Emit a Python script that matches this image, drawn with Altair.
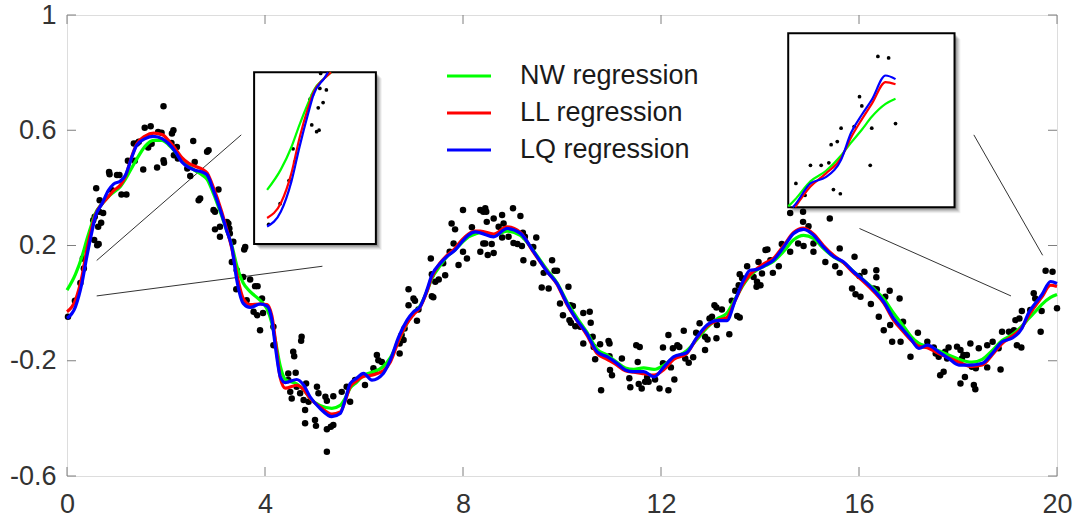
import altair as alt
import pandas as pd

# ---------------- data ----------------
X_TICKS = [0, 4, 8, 12, 16, 20]
Y_TICKS = [-0.6, -0.2, 0.2, 0.6, 1.0]
SERIES = ["NW regression", "LL regression", "LQ regression"]
COLORS = ["#00ff00", "#ff0000", "#0000ff"]

curve_x = [0.0, 0.17, 0.30, 0.40, 0.51, 0.57, 0.71, 0.84, 0.94, 1.08, 1.18, 1.31, 1.41, 1.58, 1.75, 1.92,
           2.05, 2.19, 2.32, 2.46, 2.59, 2.73, 2.83, 2.96, 3.12, 3.22, 3.33, 3.43, 3.56, 3.70, 3.90,
           4.04, 4.14, 4.21, 4.31, 4.41, 4.64, 4.78, 4.91, 5.11, 5.35, 5.52, 5.62, 5.72, 5.85, 5.99,
           6.16, 6.39, 6.53, 6.70, 6.87, 7.00, 7.13, 7.27, 7.37, 7.54, 7.67, 7.84, 7.98,
           8.11, 8.25, 8.35, 8.62, 8.89, 9.16, 9.43, 9.70, 9.90,
           10.10, 10.30, 10.50, 10.71, 10.91, 11.11, 11.28, 11.45, 11.65, 11.86,
           12.06, 12.26, 12.52, 12.73, 12.93, 13.13, 13.33, 13.50, 13.67, 13.80, 13.94,
           14.11, 14.27, 14.48, 14.68, 14.88, 15.08, 15.28, 15.49, 15.69, 15.89,
           16.09, 16.30, 16.50, 16.70, 16.90, 17.05, 17.21, 17.38, 17.61, 17.81,
           18.02, 18.28, 18.49, 18.69, 18.89, 19.09, 19.29, 19.42, 19.56, 19.69, 19.87, 20.0]

lq_y = [-0.053, -0.013, 0.068, 0.161, 0.253, 0.299, 0.346, 0.392, 0.413, 0.424, 0.444, 0.507, 0.548, 0.571, 0.579, 0.571,
        0.554, 0.525, 0.490, 0.471, 0.461, 0.455, 0.445, 0.390, 0.311, 0.255, 0.195, 0.080, -0.001, -0.015, -0.003,
        -0.010, -0.059, -0.152, -0.256, -0.276, -0.265, -0.284, -0.325, -0.365, -0.394, -0.383, -0.336, -0.279, -0.261, -0.244,
        -0.267, -0.244, -0.198, -0.117, -0.059, -0.030, -0.013, 0.045, 0.097, 0.138, 0.161, 0.184, 0.213,
        0.236, 0.247, 0.244, 0.230, 0.259, 0.242, 0.178, 0.109, 0.068,
        -0.001, -0.059, -0.105, -0.169, -0.186, -0.209, -0.232, -0.238, -0.238, -0.256,
        -0.221, -0.186, -0.172, -0.117, -0.076, -0.061, -0.061, 0.010, 0.080, 0.114, 0.117,
        0.132, 0.149, 0.195, 0.242, 0.256, 0.236, 0.195, 0.161, 0.143, 0.109,
        0.080, 0.045, 0.004, -0.053, -0.094, -0.125, -0.157, -0.146, -0.169, -0.192,
        -0.215, -0.215, -0.209, -0.175, -0.134, -0.122, -0.088, -0.036, -0.001, 0.028, 0.075, 0.068]

ll_y = [-0.030, 0.010, 0.090, 0.185, 0.268, 0.305, 0.345, 0.370, 0.390, 0.410, 0.440, 0.510, 0.552, 0.580, 0.590, 0.585,
        0.565, 0.535, 0.505, 0.485, 0.475, 0.465, 0.452, 0.400, 0.320, 0.260, 0.190, 0.100, 0.016, -0.005, -0.003,
        -0.005, -0.045, -0.130, -0.260, -0.295, -0.285, -0.300, -0.330, -0.360, -0.385, -0.378, -0.340, -0.290, -0.270, -0.255,
        -0.250, -0.235, -0.205, -0.130, -0.070, -0.040, -0.015, 0.040, 0.090, 0.140, 0.165, 0.190, 0.220,
        0.240, 0.250, 0.250, 0.240, 0.265, 0.245, 0.175, 0.110, 0.065,
        -0.005, -0.060, -0.110, -0.175, -0.195, -0.215, -0.235, -0.240, -0.245, -0.250,
        -0.230, -0.195, -0.175, -0.120, -0.080, -0.060, -0.050, 0.010, 0.070, 0.100, 0.120,
        0.140, 0.155, 0.200, 0.245, 0.260, 0.240, 0.200, 0.165, 0.140, 0.105,
        0.075, 0.040, 0.000, -0.060, -0.100, -0.128, -0.150, -0.155, -0.175, -0.190,
        -0.205, -0.220, -0.215, -0.180, -0.140, -0.115, -0.085, -0.045, -0.010, 0.020, 0.062, 0.058]

nw_y = [0.045, 0.100, 0.160, 0.220, 0.280, 0.310, 0.345, 0.370, 0.385, 0.405, 0.430, 0.470, 0.500, 0.545, 0.565, 0.565,
        0.550, 0.525, 0.495, 0.475, 0.460, 0.445, 0.430, 0.380, 0.305, 0.255, 0.200, 0.130, 0.070, 0.040, 0.010,
        -0.020, -0.070, -0.130, -0.220, -0.265, -0.280, -0.300, -0.330, -0.355, -0.365, -0.355, -0.330, -0.295, -0.275, -0.250,
        -0.240, -0.220, -0.190, -0.130, -0.070, -0.035, -0.010, 0.040, 0.085, 0.130, 0.160, 0.185, 0.210,
        0.230, 0.240, 0.245, 0.235, 0.250, 0.235, 0.180, 0.115, 0.070,
        0.005, -0.050, -0.100, -0.160, -0.180, -0.205, -0.225, -0.230, -0.225, -0.230,
        -0.215, -0.190, -0.165, -0.125, -0.085, -0.055, -0.035, 0.015, 0.065, 0.095, 0.115,
        0.130, 0.145, 0.180, 0.220, 0.235, 0.225, 0.190, 0.160, 0.140, 0.110,
        0.080, 0.050, 0.015, -0.035, -0.080, -0.115, -0.140, -0.150, -0.165, -0.180,
        -0.195, -0.205, -0.195, -0.165, -0.130, -0.110, -0.080, -0.055, -0.030, -0.005, 0.020, 0.030]

pts_x = [0.02, 0.16, 0.27, 0.34, 0.32, 0.61, 0.64, 0.63, 0.69, 0.65, 0.73, 0.66, 0.59, 0.86, 1.01, 1.06, 0.91, 1.10, 1.20,
         1.23, 1.37, 1.41, 1.54, 1.57, 1.69, 1.64, 1.82, 1.95, 1.96, 1.84, 1.91, 1.95, 2.12, 2.11, 2.22, 2.16, 2.24,
         2.55, 2.43, 2.49, 2.66, 2.58, 2.83, 1.71, 0.85, 2.15, 2.86, 2.69, 2.96, 3.09, 3.23, 3.29, 3.60,
         1.35, 1.45, 0.53, 0.56, 0.55,
         3.06, 2.99, 2.99, 3.09, 3.26, 3.28, 3.36, 3.58, 3.33, 3.43, 3.56, 3.70, 3.80, 3.85, 3.42, 3.63, 3.77, 3.84,
         3.96, 3.94, 3.90, 4.17, 4.17, 4.73, 4.59, 4.62, 4.54, 4.47, 4.71, 4.83, 4.81, 4.81, 5.03, 5.05, 5.08, 5.22,
         5.25, 5.38, 5.55, 5.25, 5.33, 5.38, 5.25, 4.78, 4.88, 4.57, 4.74, 4.47, 5.01, 4.51, 4.64,
         5.65, 5.72, 5.82, 6.02, 6.19, 6.29, 6.36, 6.22, 6.72, 6.72, 6.80, 6.76, 6.82, 7.07, 6.90, 7.00, 7.03, 6.90,
         7.10, 7.37, 7.40, 7.44, 7.51, 7.64, 7.37, 7.35, 7.60, 7.73, 7.91, 8.00, 8.08, 7.81, 7.77, 7.84, 8.00, 8.18,
         8.35, 8.41, 8.35, 8.41, 6.26,
         8.47, 8.62, 8.79, 9.01, 9.16, 8.48, 8.72, 8.82, 8.45, 8.58, 8.62, 8.50, 8.79, 8.92, 9.02, 9.10, 9.21, 9.25,
         9.48, 9.42, 9.19, 9.22, 9.42, 9.80, 9.85, 9.90, 9.63, 9.73, 9.59, 10.13, 9.96, 10.02, 10.17, 10.22, 10.15,
         10.18, 10.27, 10.43, 10.56, 10.37, 10.58, 10.43, 10.62, 10.64, 10.77, 10.94, 10.96, 10.67, 10.96, 10.97,
         11.01, 10.79, 11.21, 8.45,
         11.36, 11.38, 11.50, 11.57, 11.53, 11.55, 11.61, 11.68, 11.75, 11.88, 11.97, 12.15, 12.04, 12.04, 12.15,
         12.20, 12.27, 12.24, 12.33, 12.37, 12.46, 12.49, 12.56, 12.65, 12.71, 12.78, 12.89, 12.89, 12.94, 12.98,
         13.03, 13.12, 13.13, 13.08, 13.12, 13.23, 13.38, 13.43, 13.54, 13.59, 13.50, 13.57, 13.59, 13.64, 13.74,
         13.87, 13.93, 13.94, 13.97, 14.11, 11.72,
         14.01, 14.04, 14.15, 14.26, 14.38, 14.21, 14.44, 14.61, 14.61, 14.87, 14.87, 14.98, 14.77, 14.88, 15.08,
         15.08, 15.32, 15.41, 15.61, 15.52, 15.61, 15.91, 15.86, 15.93, 16.03, 16.01, 16.11, 16.35, 16.35, 16.30,
         16.36, 16.24, 16.40, 16.50, 16.62, 16.63, 16.53, 16.82, 16.67, 16.84, 16.89, 17.04,
         17.19, 17.38, 17.51, 17.55, 17.61, 17.74, 17.81, 17.78, 17.64, 17.71, 18.05, 18.08, 18.11, 18.18, 18.05,
         18.14, 18.25, 18.28, 18.32, 18.35, 18.36, 18.42, 18.59, 18.59, 18.70, 18.86, 18.82, 18.89, 19.03, 19.16,
         19.24, 19.13, 19.19, 19.28, 19.29, 19.46, 19.56, 19.67, 19.69, 19.77, 19.91, 20.0, 17.98, 19.53]

pts_y = [-0.047, 0.008, 0.070, 0.120, 0.155, 0.201, 0.205, 0.265, 0.279, 0.317, 0.313, 0.357, 0.399, 0.447, 0.445, 0.445,
         0.392, 0.377, 0.377,
         0.494, 0.494, 0.554, 0.464, 0.609, 0.614, 0.540, 0.471, 0.496, 0.487, 0.594, 0.591, 0.683, 0.589, 0.556, 0.542,
         0.513, 0.502,
         0.563, 0.467, 0.441, 0.357, 0.490, 0.525, 0.553, 0.455, 0.600, 0.531, 0.363, 0.323, 0.265, 0.282, 0.242, 0.195,
         0.554, 0.560, 0.288, 0.300, 0.219,
         0.394, 0.317, 0.256, 0.230, 0.276, 0.259, 0.213, 0.186, 0.143, 0.114, 0.091, 0.082, 0.059, 0.059, 0.048, 0.010,
         -0.030, -0.042,
         -0.034, 0.016, -0.094, -0.082, -0.146, -0.131, -0.184, -0.242, -0.331, -0.267, -0.313, -0.279, -0.371, -0.417,
         -0.426, -0.290, -0.313, -0.325,
         -0.339, -0.323, -0.308, -0.438, -0.429, -0.423, -0.516, -0.336, -0.342, -0.169, -0.117, -0.244, -0.406, -0.308,
         -0.290,
         -0.290, -0.342, -0.267, -0.284, -0.226, -0.198, -0.204, -0.238, -0.175, -0.140, -0.128, -0.111, -0.088, -0.061,
         0.048, 0.016, 0.008, -0.007,
         -0.022, 0.024, 0.020, 0.074, 0.082, 0.097, 0.100, 0.155, 0.138, 0.178, 0.132, 0.178, 0.155, 0.207, 0.276, 0.256,
         0.323, 0.263,
         0.323, 0.317, 0.178, 0.207, -0.180,
         0.317, 0.294, 0.306, 0.329, 0.302, 0.282, 0.265, 0.276, 0.207, 0.205, 0.174, 0.167, 0.228, 0.230, 0.209, 0.205,
         0.244, 0.230,
         0.228, 0.195, 0.198, 0.149, 0.138, 0.149, 0.112, 0.112, 0.105, 0.051, 0.054, 0.057, -0.001, -0.042, -0.007,
         -0.010, -0.059,
         -0.068, -0.080, -0.034, -0.030, -0.082, -0.068, -0.140, -0.117, -0.152, -0.143, -0.131, -0.140, -0.195, -0.184,
         -0.232,
         -0.250, -0.302, -0.192, 0.329,
         -0.261, -0.292, -0.146, -0.152, -0.204, -0.281, -0.296, -0.273, -0.273, -0.265, -0.296, -0.302, -0.209, -0.154,
         -0.111,
         -0.223, -0.265, -0.157, -0.146, -0.152, -0.096, -0.192, -0.207, -0.188, -0.103, -0.070, -0.163, -0.117, -0.126,
         -0.053,
         -0.047, -0.122, -0.076, -0.007, -0.015, -0.022, -0.108, 0.008, -0.045, -0.050, 0.043, 0.062, 0.100, 0.086,
         0.128,
         0.091, 0.057, 0.074, 0.143, 0.184, -0.256,
         0.062, 0.103, 0.186, 0.105, 0.128, 0.149, 0.205, 0.178, 0.313, 0.317, 0.282, 0.267, 0.207, 0.198, 0.207,
         0.178, 0.143, 0.294, 0.190, 0.128, 0.105, 0.161, 0.051, 0.031, 0.022, 0.094, 0.109, 0.114, 0.090, 0.051,
         0.048, -0.003, -0.047, -0.094, 0.043, -0.076, 0.022, 0.016, -0.134, -0.134, -0.065, -0.186,
         -0.103, -0.134, -0.154, -0.175, -0.186, -0.169, -0.154, -0.192, -0.250, -0.238, -0.163, -0.192, -0.180, -0.180,
         -0.279,
         -0.256, -0.140, -0.221, -0.284, -0.299, -0.226, -0.157, -0.223, -0.146, -0.134, -0.230, -0.157, -0.099, -0.099,
         -0.059,
         -0.053, -0.094, -0.146, -0.154, -0.027, -0.024, 0.016, -0.099, -0.027, 0.112, 0.109, -0.018, -0.151, 0.034]

assert len(curve_x) == len(lq_y) == len(ll_y) == len(nw_y)
assert len(pts_x) == len(pts_y)

# inset views: which data window each shows and where it sits (main data coords)
INSET_DOMAINS = [((-0.16, 1.34), (-0.10, 0.36)), ((18.6, 20.77), (-0.18, 0.157))]
INSET_BOXES = [((3.78, 6.24), (0.205, 0.801)), ((14.57, 17.93), (0.333, 0.937))]
CONNECTORS = [(0.60, 0.148, 3.52, 0.584), (0.60, 0.025, 5.16, 0.128),
              (18.32, 0.584, 19.71, 0.166), (16.01, 0.259, 19.07, 0.025)]

# ---------------- layout ----------------
W, H = 990, 461
FONT = "Liberation Sans"
XS = alt.Scale(domain=[0, 20], nice=False, zero=False)
YS = alt.Scale(domain=[-0.6, 1.0], nice=False, zero=False)

curves = {"NW regression": nw_y, "LL regression": ll_y, "LQ regression": lq_y}
pts = pd.DataFrame({"x": pts_x, "y": pts_y})

X_AXIS = alt.Axis(values=X_TICKS, ticks=False, domain=False, grid=False, labelFont=FONT,
                  labelFontSize=27, labelColor="#333333", labelPadding=15, labelFlush=False,
                  labelOverlap=False)
Y_AXIS = alt.Axis(values=Y_TICKS, ticks=False, domain=False, grid=False, labelFont=FONT,
                  labelFontSize=27, labelColor="#333333", labelPadding=11, labelFlush=False,
                  labelOverlap=False, labelExpr="'' + round(datum.value * 10) / 10")


def X(field="x"):
    return alt.X(f"{field}:Q", scale=XS, axis=X_AXIS, title=None)


def Y(field="y"):
    return alt.Y(f"{field}:Q", scale=YS, axis=Y_AXIS, title=None)


conn_df = pd.DataFrame(CONNECTORS, columns=["x", "y", "x2", "y2"])
connectors = alt.Chart(conn_df).mark_rule(color="#333333", strokeWidth=1).encode(
    x=X(), y=Y(), x2="x2:Q", y2="y2:Q")

base_pts = alt.Chart(pts).mark_circle(size=42, color="black", opacity=1).encode(x=X(), y=Y())

layers = [connectors, base_pts]
for name, color in zip(SERIES, COLORS):
    df = pd.DataFrame({"x": curve_x, "y": curves[name]})
    layers.append(alt.Chart(df).mark_line(color=color, strokeWidth=3.2, interpolate="monotone").encode(
        x=X(), y=Y(), order="x:Q"))


def clip_seg(x0, y0, x1, y1, xmin, xmax, ymin, ymax):
    dx, dy = x1 - x0, y1 - y0
    u0, u1 = 0.0, 1.0
    for p, q in ((-dx, x0 - xmin), (dx, xmax - x0), (-dy, y0 - ymin), (dy, ymax - y0)):
        if p == 0:
            if q < 0:
                return None
        else:
            t = q / p
            if p < 0:
                u0 = max(u0, t)
            else:
                u1 = min(u1, t)
    if u0 > u1:
        return None
    return (x0 + u0 * dx, y0 + u0 * dy, x0 + u1 * dx, y0 + u1 * dy)


for (dxr, dyr), (bxr, byr) in zip(INSET_DOMAINS, INSET_BOXES):
    def mx(v, dxr=dxr, bxr=bxr):
        return bxr[0] + (v - dxr[0]) / (dxr[1] - dxr[0]) * (bxr[1] - bxr[0])

    def my(v, dyr=dyr, byr=byr):
        return byr[0] + (v - dyr[0]) / (dyr[1] - dyr[0]) * (byr[1] - byr[0])

    box = pd.DataFrame({"x": [bxr[0]], "x2": [bxr[1]], "y": [byr[0]], "y2": [byr[1]]})
    for off, op in [(6, 0.05), (5, 0.08), (4, 0.1), (3, 0.12), (2, 0.15)]:
        layers.append(alt.Chart(box).mark_rect(color="#000000", opacity=op, xOffset=off, x2Offset=off,
                                               yOffset=off, y2Offset=off).encode(
            x=X(), x2="x2:Q", y=Y(), y2="y2:Q"))
    layers.append(alt.Chart(box).mark_rect(fill="white", stroke="black", strokeWidth=2).encode(
        x=X(), x2="x2:Q", y=Y(), y2="y2:Q"))

    ip = pts[(pts.x > dxr[0]) & (pts.x < dxr[1]) & (pts.y > dyr[0]) & (pts.y < dyr[1])]
    ipd = pd.DataFrame({"x": [mx(v) for v in ip.x], "y": [my(v) for v in ip.y]})
    layers.append(alt.Chart(ipd).mark_circle(size=14, color="black", opacity=1).encode(x=X(), y=Y()))

    for name, color in zip(SERIES, COLORS):
        ys = curves[name]
        rows = []
        run = 0
        last = None
        for i in range(len(curve_x) - 1):
            c = clip_seg(curve_x[i], ys[i], curve_x[i + 1], ys[i + 1], dxr[0], dxr[1], dyr[0], dyr[1])
            if c is None:
                continue
            if last is None or abs(last[0] - c[0]) > 1e-9 or abs(last[1] - c[1]) > 1e-9:
                run += 1
                rows.append((run, c[0], c[1]))
            rows.append((run, c[2], c[3]))
            last = (c[2], c[3])
        cdf = pd.DataFrame({"run": [r[0] for r in rows], "x": [mx(r[1]) for r in rows],
                            "y": [my(r[2]) for r in rows], "k": list(range(len(rows)))})
        layers.append(alt.Chart(cdf).mark_line(color=color, strokeWidth=2.2, interpolate="monotone").encode(
            x=X(), y=Y(), detail="run:N", order="k:Q"))

# inward ticks on all four sides
xt = pd.DataFrame({"x": X_TICKS})
yt = pd.DataFrame({"y": Y_TICKS})
TK = "#7f7f7f"
layers += [
    alt.Chart(xt).mark_rule(color=TK, strokeWidth=1).encode(x=X(), y=alt.value(H), y2=alt.value(H - 9)),
    alt.Chart(xt).mark_rule(color=TK, strokeWidth=1).encode(x=X(), y=alt.value(0), y2=alt.value(9)),
    alt.Chart(yt).mark_rule(color=TK, strokeWidth=1).encode(y=Y(), x=alt.value(0), x2=alt.value(9)),
    alt.Chart(yt).mark_rule(color=TK, strokeWidth=1).encode(y=Y(), x=alt.value(W), x2=alt.value(W - 9)),
]

# legend drawn by hand
for i, (name, color) in enumerate(zip(SERIES, COLORS)):
    one = pd.DataFrame({"label": [name]})
    yy = 61 + i * 37
    layers.append(alt.Chart(one).mark_rule(color=color, strokeWidth=3).encode(
        x=alt.value(380), x2=alt.value(424), y=alt.value(yy)))
    layers.append(alt.Chart(one).mark_text(align="left", baseline="middle", font=FONT, fontSize=27,
                                           color="#1a1a1a").encode(
        x=alt.value(453), y=alt.value(yy), text="label:N"))

chart = alt.layer(*layers).properties(
    width=W, height=H,
    autosize=alt.AutoSizeParams(type="none"),
    padding={"left": 67, "top": 15, "right": 22, "bottom": 53},
).configure_view(stroke="#7f7f7f", strokeWidth=1).configure(background="white")

chart.save("out.html", embed_options={"renderer": "svg", "actions": False})
